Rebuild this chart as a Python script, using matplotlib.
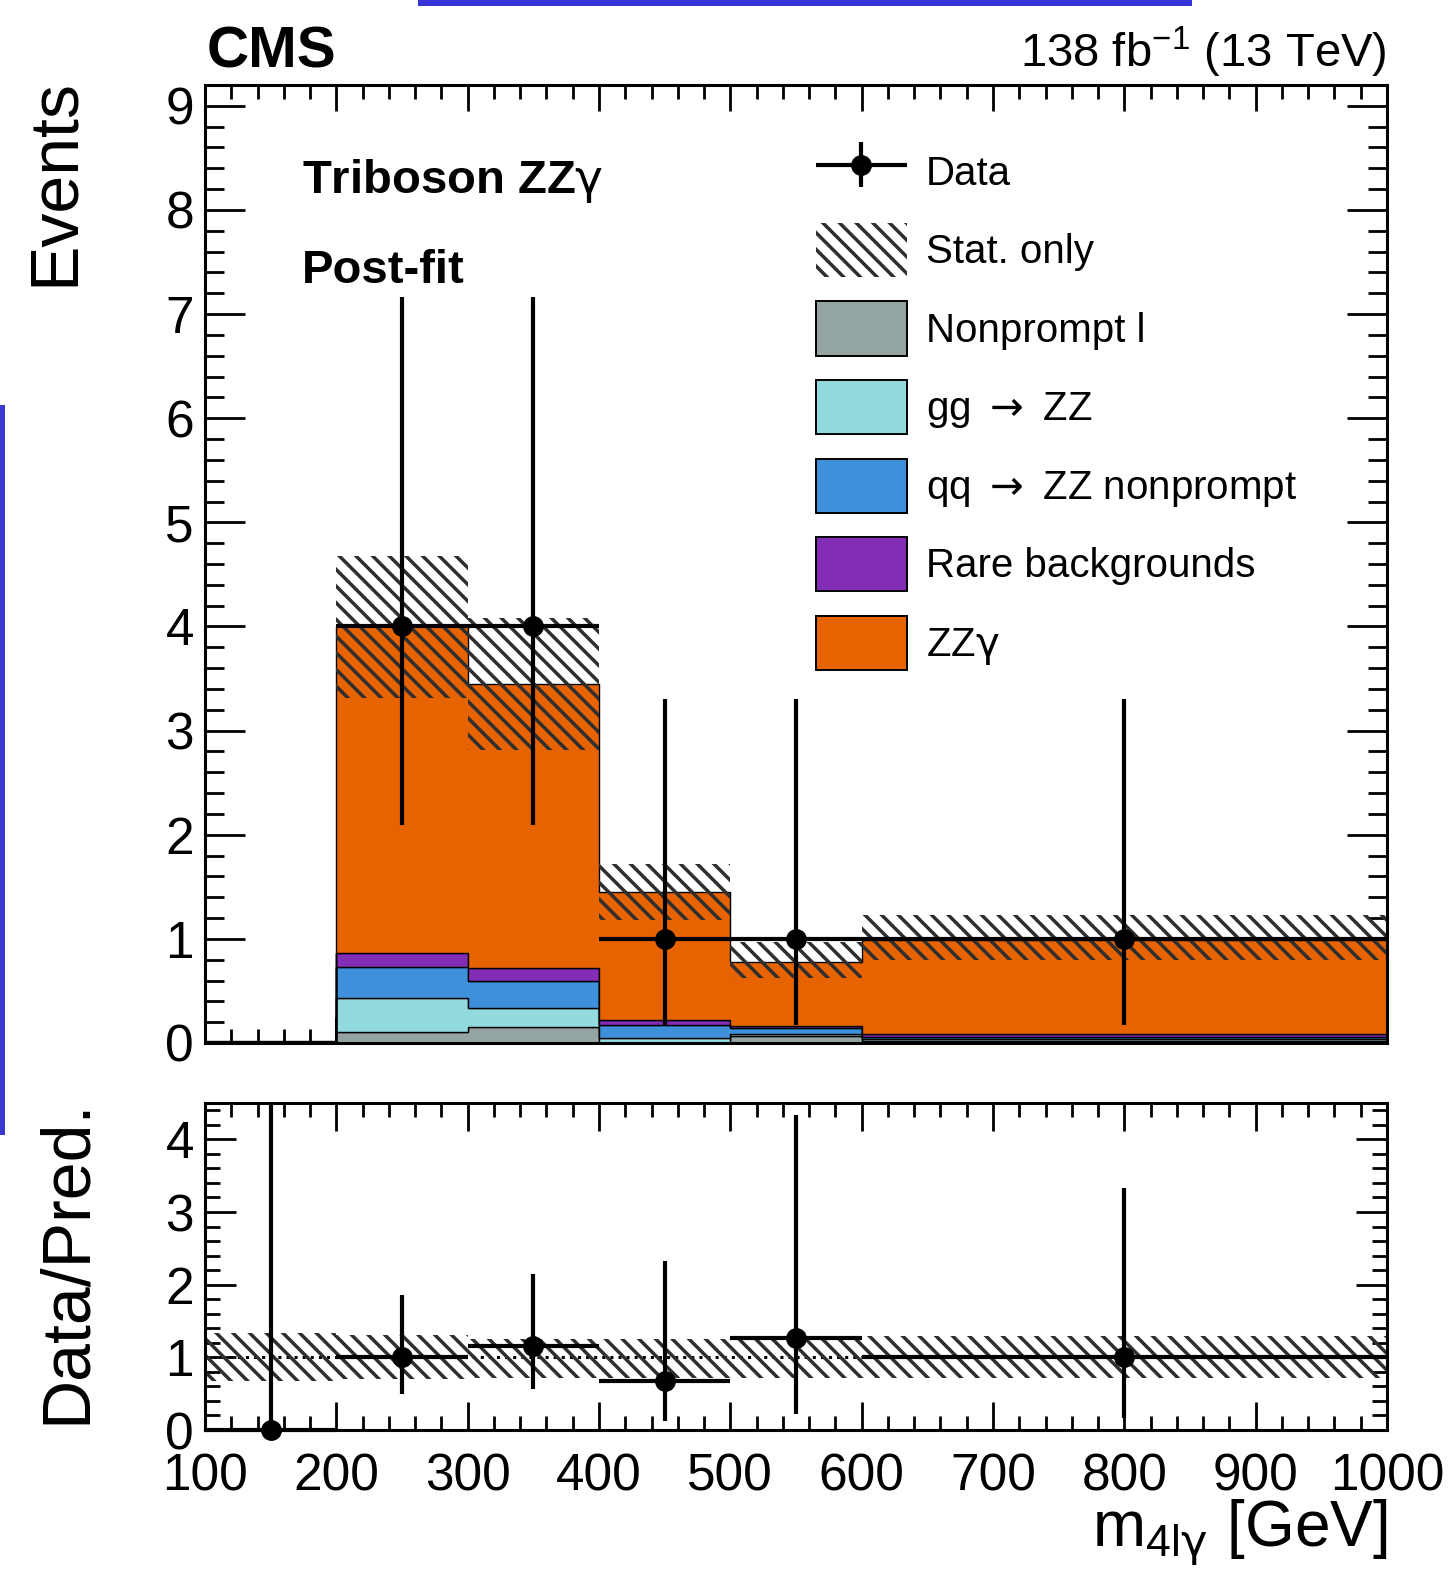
import matplotlib
matplotlib.use('Agg')
import matplotlib.pyplot as plt
from matplotlib.patches import Patch, Rectangle
from matplotlib.container import ErrorbarContainer
from matplotlib.legend_handler import HandlerErrorbar
from matplotlib.ticker import MultipleLocator
import numpy as np

plt.rcParams['font.family'] = ['Liberation Sans', 'DejaVu Sans']
plt.rcParams['mathtext.fontset'] = 'custom'
plt.rcParams['mathtext.rm'] = 'Liberation Sans'
# greek letters in math mode go through 'it'; DejaVu gives a proper upright gamma
plt.rcParams['mathtext.it'] = 'DejaVu Sans'
# longer arrow than the Liberation one
plt.rcParams['mathtext.sf'] = 'DejaVu Sans'
plt.rcParams['mathtext.bf'] = 'Liberation Sans:bold'
plt.rcParams['hatch.linewidth'] = 2.5

# binning in m_4lgamma [GeV]
bin_edges = [100, 200, 300, 400, 500, 600, 1000]

# post-fit stack, bottom to top
nonprompt = [0.0, 0.11, 0.15, 0.0, 0.07, 0.02]
gg_zz = [0.0, 0.32, 0.19, 0.05, 0.02, 0.02]
qq_zz = [0.0, 0.30, 0.26, 0.12, 0.05, 0.02]
rare = [0.0, 0.13, 0.12, 0.05, 0.02, 0.03]
zzg = [0.02, 3.14, 2.73, 1.23, 0.62, 0.90]

stack_labels = ['Nonprompt l', 'gg $\\mathsf{\\rightarrow}$ ZZ', 'qq $\\mathsf{\\rightarrow}$ ZZ nonprompt',
                'Rare backgrounds', 'ZZ$\\gamma$']
stack_colors = ['#94a4a2', '#92dadd', '#3f90da', '#832db6', '#e76300']

# stat. uncertainty band on the total prediction
stat_lo = [0.02, 3.31, 2.81, 1.18, 0.62, 0.80]
stat_hi = [0.02, 4.68, 4.08, 1.72, 0.97, 1.23]

# data (Poisson intervals)
data_x = [150, 250, 350, 450, 550, 800]
data_y = [0, 4, 4, 1, 1, 1]
data_err_lo = [0.0, 1.91, 1.91, 0.83, 0.83, 0.83]
data_err_hi = [1.84, 3.16, 3.16, 2.30, 2.30, 2.30]

# ratio panel
ratio_y = [0.0, 1.0, 1.15, 0.67, 1.26, 1.0]
ratio_err_lo = [0.0, 0.50, 0.58, 0.55, 1.04, 0.83]
ratio_err_hi = [4.5, 0.86, 1.00, 1.66, 3.07, 2.33]
ratio_band_lo = [0.67, 0.70, 0.72, 0.72, 0.72, 0.72]
ratio_band_hi = [1.33, 1.31, 1.25, 1.25, 1.29, 1.29]

W, H = 1454, 1571
fig = plt.figure(figsize=(W / 100, H / 100), dpi=100)
ax = fig.add_axes([205 / W, 1 - 1043 / H, 1182 / W, 958 / H])
rax = fig.add_axes([205 / W, 1 - 1430 / H, 1182 / W, 327 / H])

edges = np.array(bin_edges, dtype=float)
half_w = np.diff(edges) / 2


def style_axis(a, xmaj, xmin, ymaj, ymin, xpad=9):
    a.xaxis.set_major_locator(MultipleLocator(100))
    a.xaxis.set_minor_locator(MultipleLocator(20))
    a.yaxis.set_major_locator(MultipleLocator(1))
    a.yaxis.set_minor_locator(MultipleLocator(0.2))
    a.tick_params(which='both', direction='in', top=True, right=True, width=2, labelsize=37)
    a.tick_params(axis='y', pad=8)
    a.tick_params(axis='x', pad=xpad)
    a.tick_params(axis='x', which='major', length=xmaj)
    a.tick_params(axis='x', which='minor', length=xmin)
    a.tick_params(axis='y', which='major', length=ymaj)
    a.tick_params(axis='y', which='minor', length=ymin)
    for s in a.spines.values():
        s.set_linewidth(2.2)
        s.set_zorder(5)
    a.set_xlim(100, 1000)


# stacked histograms
bottom = np.zeros(len(zzg))
for vals, col in zip([nonprompt, gg_zz, qq_zz, rare, zzg], stack_colors):
    top = bottom + np.array(vals)
    ax.stairs(top, edges, baseline=bottom, fill=True, facecolor=col,
              edgecolor='black', linewidth=1.0, zorder=2)
    bottom = top

ax.stairs(stat_hi, edges, baseline=stat_lo, fill=True, facecolor='none',
          edgecolor='#2e2e2e', hatch='\\\\', linewidth=0, zorder=3)

dx = np.array(data_x)
dy = np.array(data_y)
nz = dy > 0
data_cont = ax.errorbar(dx[nz], dy[nz], xerr=half_w[nz],
                        yerr=[np.array(data_err_lo)[nz], np.array(data_err_hi)[nz]],
                        fmt='o', color='black', ms=14, elinewidth=3, capsize=0, zorder=4)

style_axis(ax, 19, 10, 29, 14)
ax.set_ylim(0, 9.2)
ax.tick_params(axis='x', labelbottom=False)
ax.set_axisbelow(True)

ax.text(0.082, 0.887, 'Triboson ZZ$\\gamma$', transform=ax.transAxes, fontsize=34,
        fontweight='bold', ha='left', va='baseline')
ax.text(0.082, 0.793, 'Post-fit', transform=ax.transAxes, fontsize=34,
        fontweight='bold', ha='left', va='baseline')

handles = [data_cont,
           Patch(facecolor='none', edgecolor='#2e2e2e', hatch='\\\\', linewidth=0)]
for col in stack_colors:
    handles.append(Patch(facecolor=col, edgecolor='black', linewidth=1.4))
labels = ['Data', 'Stat. only'] + stack_labels
ax.legend(handles, labels, loc='upper left', bbox_to_anchor=(0.517, 0.938),
          frameon=False, fontsize=29, handlelength=2.25, handleheight=1.7,
          labelspacing=0.6, handletextpad=0.48, borderpad=0, borderaxespad=0,
          numpoints=1,
          handler_map={ErrorbarContainer: HandlerErrorbar(xerr_size=1.12, yerr_size=0.55)})

# ratio panel
rax.stairs(ratio_band_hi, edges, baseline=ratio_band_lo, fill=True, facecolor='none',
           edgecolor='#2e2e2e', hatch='\\\\', linewidth=0, zorder=2)
rax.axhline(1.0, color='black', linestyle=':', linewidth=2.2, zorder=1)
rax.errorbar(data_x, ratio_y, xerr=half_w, yerr=[ratio_err_lo, ratio_err_hi],
             fmt='o', color='black', ms=14, elinewidth=3, capsize=0, zorder=4, clip_on=False)
style_axis(rax, 20, 10, 22, 11, xpad=16)
rax.set_ylim(0, 4.5)

fig.text(1387 / W, 1 - 1547 / H, 'm$_{\\mathrm{4l}\\gamma}$ [GeV]', fontsize=46,
         ha='right', va='baseline')
fig.text(55 / W, 1 - 78 / H, 'Events', fontsize=49, rotation=90, ha='center', va='top')
fig.text(67 / W, 1 - 1098 / H, 'Data/Pred.', fontsize=49, rotation=90, ha='center', va='top')
fig.text(207 / W, 1 - 68 / H, 'CMS', fontsize=42, fontweight='bold', ha='left', va='baseline')
fig.text(1387 / W, 1 - 67 / H, '138 fb$^{-1}$ (13 TeV)', fontsize=34, ha='right', va='baseline')

# blue selection marks present in the reference image
fig.patches.append(Rectangle((418 / W, 1 - 6 / H), 774 / W, 6 / H, transform=fig.transFigure,
                             facecolor='#3535d6', edgecolor='none'))
fig.patches.append(Rectangle((0, 1 - 1135 / H), 5 / W, 730 / H, transform=fig.transFigure,
                             facecolor='#3a3ad0', edgecolor='none'))

fig.savefig('out.png', dpi=100)
